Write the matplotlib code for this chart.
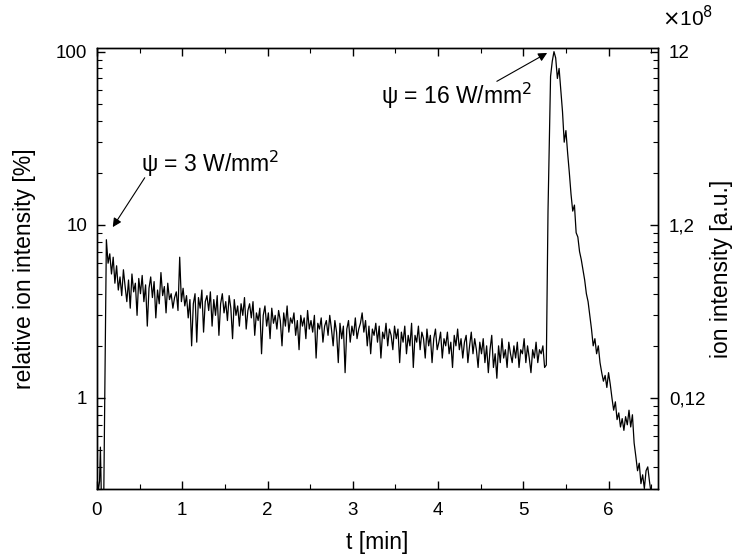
import numpy as np
import matplotlib
matplotlib.use("Agg")
import matplotlib.pyplot as plt
from matplotlib.ticker import LogLocator, NullFormatter, FixedLocator, FixedFormatter, MultipleLocator

plt.rcParams['font.family'] = ['Liberation Sans', 'DejaVu Sans']

# ---- data ----
t_start = [0.0, 0.015, 0.03, 0.04, 0.05, 0.065, 0.08]
y_start = [0.35, 0.29, 0.33, 0.52, 0.29, 0.29, 0.29]

t_noise0 = 0.11
t_noise_step = 0.02
y_noise = [
    8.2, 6.0, 6.8, 5.2, 6.5, 4.6, 5.8, 4.2, 5.0, 3.9,
    5.5, 4.4, 3.6, 4.8, 3.3, 5.2, 4.1, 4.6, 3.0, 4.9,
    4.0, 5.1, 3.6, 4.5, 2.6, 4.3, 5.0, 3.8, 4.7, 2.9,
    4.2, 3.5, 5.3, 3.9, 4.4, 3.1, 4.6, 3.7, 4.0, 3.3,
    3.8, 4.1, 3.2, 6.5, 3.6, 4.3, 3.4, 3.9, 2.9, 3.7,
    2.0, 3.5, 4.0, 2.1, 3.8, 3.3, 4.2, 2.4, 3.6, 3.9,
    3.2, 4.1, 2.6, 3.7, 3.0, 3.9, 2.3, 3.5, 4.0, 3.1,
    3.6, 2.8, 3.9, 3.3, 2.2, 3.7, 3.0, 3.4, 2.6, 3.5,
    3.0, 3.8, 2.5, 3.2, 3.5, 2.9, 3.6, 2.3, 3.1, 2.8,
    3.3, 1.8, 3.0, 3.4, 2.6, 3.1, 2.2, 3.3, 2.7, 3.0,
    2.5, 3.2, 2.8, 2.0, 3.1, 2.6, 3.4, 2.4, 2.9, 2.7,
    3.1, 2.3, 2.8, 1.9, 3.0, 2.6, 2.9, 2.2, 3.2, 2.5,
    2.8, 2.4, 3.0, 1.7, 2.7, 2.5, 2.9, 2.1, 2.6, 2.8,
    2.3, 3.0, 2.5, 2.0, 2.8, 2.4, 1.6, 2.7, 2.2, 2.6,
    1.4, 2.5, 2.8, 2.1, 2.6, 2.3, 2.9, 2.2, 2.5, 2.7,
    3.1, 2.4, 2.8, 2.0, 2.6, 1.8, 2.5, 2.3, 2.7, 2.1,
    2.6, 1.7, 2.4, 2.2, 2.7, 2.0, 2.5, 2.3, 1.9, 2.6,
    2.2, 2.5, 1.6, 2.4, 2.1, 2.6, 1.8, 2.3, 2.0, 2.7,
    1.5, 2.3, 2.1, 2.6, 1.9, 2.4, 2.2, 1.7, 2.5, 2.0,
    2.3, 1.6, 2.2, 2.5, 1.9, 2.1, 2.4, 1.7, 2.2, 2.0,
    2.4, 1.8, 2.1, 1.5, 2.3, 2.0, 2.5, 1.9, 2.2, 1.7,
    2.1, 2.3, 1.6, 2.0, 2.4, 1.8, 2.2, 1.9, 1.5, 2.1,
    1.8, 2.2, 1.6, 2.0, 1.4, 1.9, 2.3, 1.5, 1.8, 1.3,
    2.0, 1.6, 2.2, 1.7, 1.9, 1.5, 2.1, 1.8, 1.6, 2.0,
    1.7, 2.1, 1.5, 1.9, 1.8, 2.2, 1.6, 2.0, 1.7, 1.4,
    1.9, 1.7, 2.1, 1.6, 1.9, 1.8, 2.0, 1.5, 1.55,
]

t_peak = [5.29, 5.32, 5.34, 5.36, 5.38, 5.40, 5.42, 5.44, 5.46, 5.48,
          5.50, 5.52, 5.54, 5.56, 5.58, 5.60, 5.62, 5.64, 5.66, 5.68,
          5.70, 5.72, 5.74, 5.76, 5.78, 5.80, 5.82, 5.84, 5.86, 5.88,
          5.90, 5.92, 5.94, 5.96, 5.98, 6.00, 6.02, 6.04, 6.06, 6.08,
          6.10, 6.12, 6.14, 6.16, 6.18, 6.20, 6.22, 6.24, 6.26, 6.28,
          6.30, 6.32, 6.34, 6.36, 6.38, 6.40, 6.42, 6.44, 6.46, 6.48, 6.50]
y_peak = [12, 72, 88, 100, 92, 70, 80, 60, 45, 30,
          35, 26, 20, 15, 12, 13, 9, 8.5, 7, 6.3,
          5.5, 4.8, 4.0, 3.6, 3.0, 2.5, 2.0, 2.2, 1.8, 2.0,
          1.6, 1.4, 1.25, 1.35, 1.15, 1.4, 1.2, 1.0, 0.85, 0.95,
          0.75, 0.82, 0.68, 0.76, 0.65, 0.78, 0.70, 0.85, 0.68, 0.80,
          0.55, 0.46, 0.38, 0.42, 0.32, 0.36, 0.30, 0.38, 0.40, 0.33, 0.28]

right_ticks = [1, 10, 100]
right_labels = ['0,12', '1,2', '12']

# ---- assemble ----
t_noise = t_noise0 + t_noise_step * np.arange(len(y_noise))
t = np.concatenate([t_start, t_noise, t_peak])
y = np.concatenate([y_start, y_noise, y_peak])

LBL = 16.5
TCK = 13.5

fig = plt.figure(figsize=(7.37, 5.54), dpi=100)
ax = fig.add_axes([0.1316, 0.1173, 0.7612, 0.7961])
ax.plot(t, y, color='black', lw=0.9)
ax.set_yscale('log')
ax.set_xlim(0, 6.58)
ax.set_ylim(0.298, 105)

ax.xaxis.set_major_locator(MultipleLocator(1))
ax.xaxis.set_minor_locator(MultipleLocator(0.5))
ax.yaxis.set_major_locator(FixedLocator([1, 10, 100]))
ax.yaxis.set_major_formatter(FixedFormatter(['1', '10', '100']))
ax.yaxis.set_minor_locator(LogLocator(base=10, subs=np.arange(2, 10)))
ax.yaxis.set_minor_formatter(NullFormatter())
ax.tick_params(which='both', direction='in', top=True, labelsize=TCK)
ax.tick_params(which='major', length=6, width=1)
ax.tick_params(which='minor', length=3.5, width=0.8)
ax.tick_params(axis='x', pad=9)
ax.tick_params(axis='y', pad=7)

ax2 = ax.twinx()
ax2.set_yscale('log')
ax2.set_ylim(ax.get_ylim())
ax2.yaxis.set_major_locator(FixedLocator(right_ticks))
ax2.yaxis.set_major_formatter(FixedFormatter(right_labels))
ax2.yaxis.set_minor_locator(LogLocator(base=10, subs=np.arange(2, 10)))
ax2.yaxis.set_minor_formatter(NullFormatter())
ax2.tick_params(which='both', direction='in', labelsize=TCK)
ax2.tick_params(which='major', length=6, width=1, pad=8)
ax2.tick_params(which='minor', length=3.5, width=0.8)

for a in (ax, ax2):
    for s in a.spines.values():
        s.set_linewidth(1.0)

ax.set_xlabel('t [min]', fontsize=LBL, labelpad=9)
ax.set_ylabel('relative ion intensity [%]', fontsize=LBL, labelpad=14)
ax2.set_ylabel('ion intensity [a.u.]', fontsize=LBL, labelpad=3)
fig.text(0.898, 0.945, r'$\times$10$^{8}$', fontsize=15, ha='left', va='bottom')

ax.text(0.52, 22.5, r'ψ = 3 W/mm$^2$', fontsize=LBL, ha='left', va='center')
ax.annotate('', xy=(0.185, 9.7), xytext=(0.56, 18.7),
            arrowprops=dict(arrowstyle='-|>', color='black', lw=0.8,
                            mutation_scale=13, shrinkA=0, shrinkB=0))
ax.text(3.33, 55.7, r'ψ = 16 W/mm$^2$', fontsize=LBL, ha='left', va='center')
ax.annotate('', xy=(5.28, 98.3), xytext=(4.69, 67.4),
            arrowprops=dict(arrowstyle='-|>', color='black', lw=0.8,
                            mutation_scale=13, shrinkA=0, shrinkB=0))

fig.savefig('out.png', dpi=100)
